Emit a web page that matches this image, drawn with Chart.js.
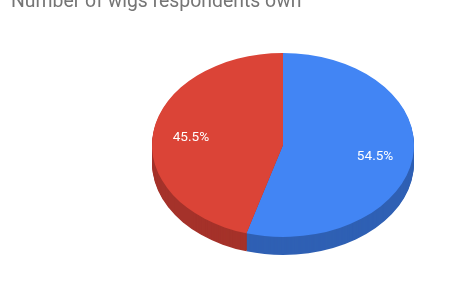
<!DOCTYPE html>
<html>
<head>
<meta charset="utf-8">
<script src="https://cdn.jsdelivr.net/npm/chart.js@4"></script>
<style>
  html, body { margin: 0; padding: 0; background: #fff; }
  #wrap { width: 450px; height: 300px; position: relative; }
</style>
</head>
<body>
<div id="wrap"><canvas id="pieChart"></canvas></div>
<script>
// DATA
const TITLE = "Number of wigs respondents own";
const categories = ["1 or more", "None"];
const shares = [54.5, 45.5];
const topColors = ["#4285f4", "#db4437"];
const sideColors = ["#2f60b4", "#a5322a"];

const TILT = 92 / 131; // vertical squash of the pie
const DEPTH = 18;      // thickness of the pie side in px

function tilt(ctx, x, y) {
  ctx.translate(x, y);
  ctx.scale(1, TILT);
  ctx.translate(-x, -y);
}

// draws the title, the 3d side and squashes the top face
const pie3d = {
  id: "pie3d",
  beforeDraw(chart) {
    const ctx = chart.ctx;
    ctx.save();
    ctx.font = "19.4px Roboto";
    ctx.fillStyle = "#757575";
    ctx.textBaseline = "alphabetic";
    ctx.fillText(TITLE, 11, 7);
    ctx.restore();
  },
  beforeDatasetsDraw(chart) {
    const ctx = chart.ctx;
    const arcs = chart.getDatasetMeta(0).data;
    ctx.save();
    for (let d = DEPTH; d >= 1; d--) {
      arcs.forEach((arc, i) => {
        const p = arc.getProps(["x", "y", "startAngle", "endAngle", "outerRadius"], true);
        ctx.save();
        ctx.translate(0, d);
        tilt(ctx, p.x, p.y);
        ctx.beginPath();
        ctx.moveTo(p.x, p.y);
        ctx.arc(p.x, p.y, p.outerRadius, p.startAngle, p.endAngle);
        ctx.closePath();
        ctx.fillStyle = sideColors[i];
        ctx.fill();
        ctx.restore();
      });
    }
    ctx.restore();
    const a0 = arcs[0];
    ctx.save();
    tilt(ctx, a0.x, a0.y);
  },
  afterDatasetsDraw(chart) {
    const ctx = chart.ctx;
    ctx.restore();
    const arcs = chart.getDatasetMeta(0).data;
    ctx.save();
    ctx.font = "13.6px Roboto";
    ctx.fillStyle = "#ffffff";
    ctx.textAlign = "center";
    ctx.textBaseline = "middle";
    arcs.forEach((arc, i) => {
      const p = arc.getProps(["x", "y", "startAngle", "endAngle", "outerRadius"], true);
      const mid = (p.startAngle + p.endAngle) / 2;
      const r = p.outerRadius * 0.71;
      const lx = p.x + Math.cos(mid) * r;
      const ly = p.y + 2 + Math.sin(mid) * r * TILT;
      ctx.fillText(shares[i].toFixed(1) + "%", lx, ly);
    });
    ctx.restore();
  },
};

new Chart(document.getElementById("pieChart"), {
  type: "pie",
  data: {
    labels: categories,
    datasets: [{
      data: shares,
      backgroundColor: topColors,
      borderWidth: 0,
    }],
  },
  options: {
    responsive: true,
    maintainAspectRatio: false,
    animation: false,
    layout: { padding: { left: 152, right: 36, top: 14, bottom: 24 } },
    plugins: {
      legend: { display: false },
      tooltip: { enabled: false },
      title: { display: false },
    },
  },
  plugins: [pie3d],
});
</script>
</body>
</html>
